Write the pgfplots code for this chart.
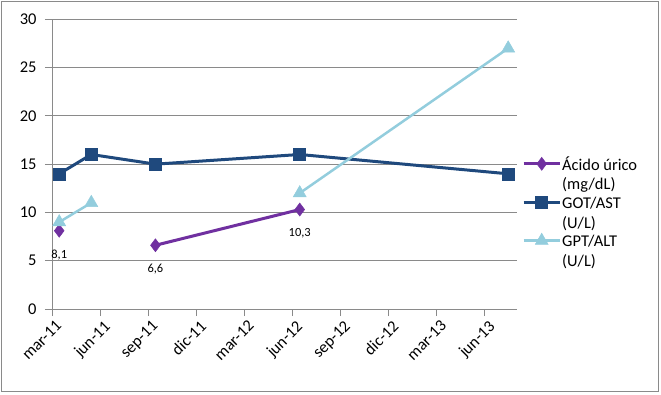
\documentclass[border=0pt]{standalone}
\usepackage{pgfplots}
\pgfplotsset{compat=1.18}
\usepackage{fontspec}
\setmainfont{Carlito}
\definecolor{uric}{HTML}{7030A0}
\definecolor{got}{HTML}{1F497D}
\definecolor{gpt}{HTML}{93CDDD}
\definecolor{gridc}{HTML}{8A8A8A}
\begin{document}
\begin{tikzpicture}[x=1bp,y=1bp]
\useasboundingbox (0,0) rectangle (661,394);
\draw[gridc, line width=1bp] (1.5,2.5) rectangle (658,392.3);
\begin{axis}[
  at={(52bp,85bp)}, anchor=origin,
  scale only axis, width=465bp, height=289.7bp,
  xmin=0, xmax=29, ymin=0, ymax=30,
  axis x line=bottom, axis y line=left,
  axis line style={gridc, line width=1bp, -},
  xtick={0,3,6,9,12,15,18,21,24,27},
  xticklabels={mar-11,jun-11,sep-11,dic-11,mar-12,jun-12,sep-12,dic-12,mar-13,jun-13},
  ytick={0,5,10,15,20,25,30},
  tick align=outside, major tick length=7bp,
  tick style={gridc, line width=1bp},
  ymajorgrids, grid style={gridc, line width=1bp},
  /pgf/number format/assume math mode=true,
  tick label style={font=\fontsize{16.5}{20}\selectfont, text=black},
  xticklabel style={rotate=45, anchor=north east, xshift=3bp, yshift=-1bp},
  yticklabel style={xshift=-5bp},
  unbounded coords=jump,
  legend style={at={(1,0.532)}, anchor=north west, xshift=5bp, draw=none, fill=none,
    inner sep=0pt, row sep=21bp,
    nodes={inner sep=1bp, font=\fontsize{16.5}{20}\selectfont},
    /tikz/every even column/.append style={column sep=0pt}},
  legend cell align=left,
  legend image code/.code={\draw[mark repeat=2,mark phase=2,#1] plot coordinates {(0bp,0bp) (18bp,0bp) (36bp,0bp)};},
]
\addplot[uric, line width=3bp, mark=diamond*, mark size=6.5bp,
  mark options={solid, fill=uric, draw=uric, line width=0.5bp},
  point meta=explicit symbolic,
  nodes near coords,
  every node near coord/.append style={anchor=center, yshift=-24bp, text=black, font=\fontsize{12.5}{15}\selectfont}]
  coordinates {(0.45,8.1) [8,1] (2.45,nan) [] (6.45,6.6) [6,6] (15.45,10.3) [10,3]};
\addlegendentry{\begin{tabular}[t]{@{}l@{}}Ácido úrico\\(mg/dL)\end{tabular}}
\addplot[got, line width=3bp, mark=square*, mark size=6bp,
  mark options={solid, fill=got, draw=got, line width=0.5bp}]
  coordinates {(0.45,14) (2.45,16) (6.45,15) (15.45,16) (28.45,14)};
\addlegendentry{\begin{tabular}[t]{@{}l@{}}GOT/AST\\(U/L)\end{tabular}}
\addplot[gpt, line width=2.5bp, mark=triangle*, mark size=7.5bp,
  mark options={solid, fill=gpt, draw=gpt, line width=0.5bp}]
  coordinates {(0.45,9) (2.45,11) (6.45,nan) (15.45,12) (28.45,27)};
\addlegendentry{\begin{tabular}[t]{@{}l@{}}GPT/ALT\\(U/L)\end{tabular}}
\end{axis}
\end{tikzpicture}
\end{document}
